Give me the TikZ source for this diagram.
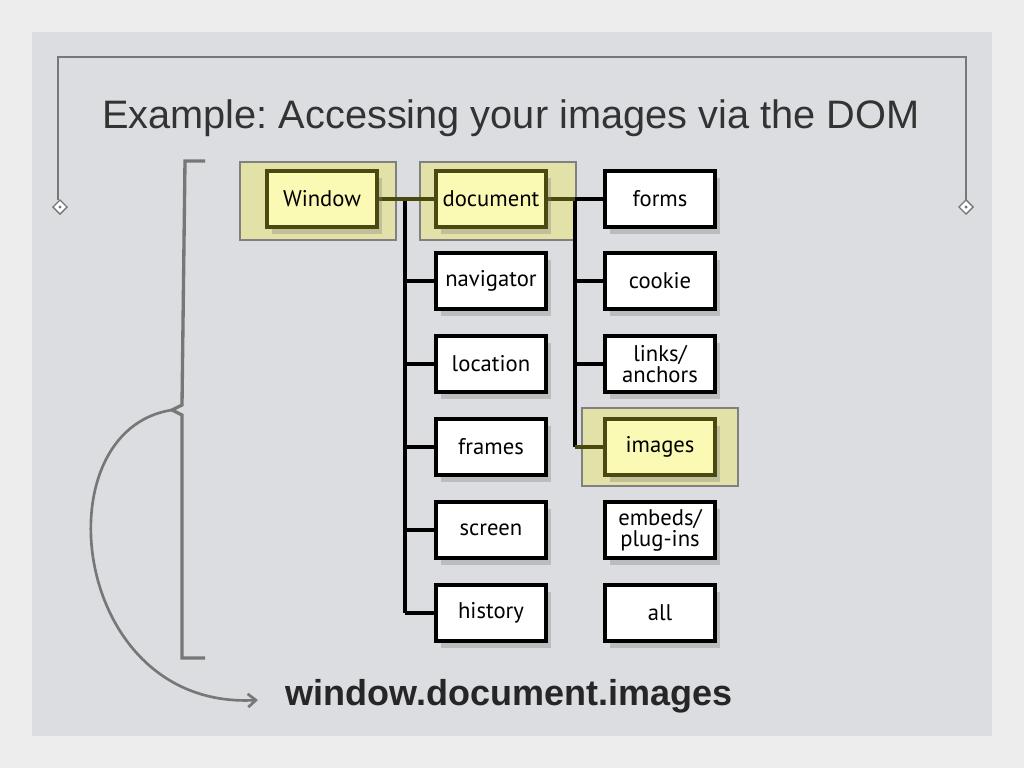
\documentclass[tikz,border=0pt]{standalone}
\usepackage{fontspec}
\setmainfont{Liberation Sans}
\newfontfamily\boxfont{PT Sans}
\usetikzlibrary{shadows,arrows.meta,shapes.geometric}
\frenchspacing
\definecolor{slidebg}{HTML}{DCDDE0}
\definecolor{pagebg}{HTML}{EDEDED}
\definecolor{hl}{HTML}{E2E2A8}
\definecolor{hlbox}{HTML}{FAFAB4}
\definecolor{hlborder}{HTML}{4A4A10}
\definecolor{framegray}{HTML}{777777}
\tikzset{
  x=0.75pt,y=-0.75pt,
  dbox/.style={draw=black,line width=2.6pt,fill=white,minimum width=82.5pt,minimum height=42pt,
    font=\boxfont\fontsize{17}{16}\selectfont,align=center,inner sep=0pt,
    drop shadow={opacity=0.35,shadow xshift=4pt,shadow yshift=-5pt}},
  hbox/.style={dbox,fill=hlbox,draw=hlborder},
  hlrect/.style={draw=gray,fill=hl,line width=0.8pt},
  wire/.style={line width=2.4pt,draw=black},
  hwire/.style={line width=2.4pt,draw=hlborder},
  framel/.style={draw=framegray,line width=1.2pt},
}
\begin{document}
\begin{tikzpicture}
\fill[pagebg] (0,0) rectangle (1024,768);
\fill[slidebg] (32,32) rectangle (992,736);
\useasboundingbox (0,0) rectangle (1024,768);
% frame
\coordinate (fl) at (58,200);
\coordinate (fr) at (966,200);
\draw[framel] (fl) -- (58,57) -- (966,57) -- (fr);
\node[diamond,draw=framegray,fill=white,line width=1pt,minimum size=11pt,inner sep=0pt] (dl) at (60,207) {};
\node[diamond,draw=framegray,fill=white,line width=1pt,minimum size=11pt,inner sep=0pt] (dr) at (966,207) {};
\fill[framegray] (dl) circle (1.3pt);
\fill[framegray] (dr) circle (1.3pt);
\node[font=\fontsize{29.8}{30}\selectfont,text=black!80,anchor=west,inner sep=0pt] (title) at (102,118) {Example: Accessing your images via the DOM};
% highlights
\draw[hlrect] (240,162) rectangle (396,240);
\draw[hlrect] (420,162) rectangle (576,240);
\draw[hlrect] (582,408) rectangle (738,486);
% wires
\coordinate (b1t) at (405,199);
\coordinate (b1b) at (405,613);
\coordinate (b2t) at (575,199);
\coordinate (b2b) at (575,447);
\draw[wire] (b1t) -- (b1b);
\draw[wire] (b2t) -- (b2b);
\foreach \y in {281,364,447,530,613} {\draw[wire] (405,\y) -- (440,\y);}
\foreach \y in {281,364} {\draw[wire] (575,\y) -- (610,\y);}
\draw[hwire] (377,199) -- (436,199);
\draw[hwire] (546,199) -- (575,199);
\draw[wire] (575,199) -- (606,199);
\draw[hwire] (575,447) -- (606,447);
% nodes
\node[hbox] (window) at (322,199) {Window};
\node[hbox] (document) at (491,199) {document};
\node[dbox] (navigator) at (491,281) {navigator};
\node[dbox] (location) at (491,364) {location};
\node[dbox] (frames) at (491,447) {frames};
\node[dbox] (screen) at (491,530) {screen};
\node[dbox] (history) at (491,613) {history};
\node[dbox] (forms) at (660,199) {forms};
\node[dbox] (cookie) at (660,281) {cookie};
\node[dbox] (links) at (660,364) {links/\\anchors};
\node[hbox] (images) at (660,447) {images};
\node[dbox] (embeds) at (660,530) {embeds/\\plug-ins};
\node[dbox] (all) at (660,613) {all};
% brace
\coordinate (tip) at (172,410);
\draw[draw=framegray,line width=2.5pt] (205,161) -- (185,161) -- (182,405) -- (tip) -- (182,415) -- (182,658) -- (205,658);
\node[font=\bfseries\fontsize{27}{27}\selectfont,text=black!85,inner sep=0pt] (expr) at (509,696) {window.document.images};
\coordinate (ae) at (258,700);
\draw[draw=framegray,line width=2pt,-{Straight Barb[length=6pt,width=10pt]}] (tip) .. controls (40,430) and (70,710) .. (ae);
\end{tikzpicture}
\end{document}
